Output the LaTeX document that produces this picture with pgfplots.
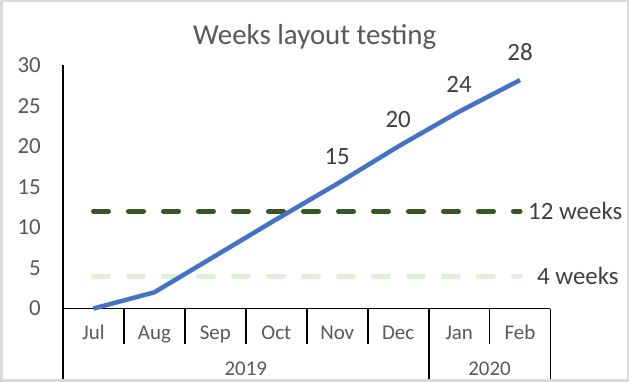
\documentclass[border=0pt]{standalone}
\usepackage{pgfplots}
\pgfplotsset{compat=1.18}
\usepackage{fontspec}
\setmainfont{Carlito}
\definecolor{frame}{HTML}{D9D9D9}
\definecolor{txt}{HTML}{595959}
\definecolor{dtxt}{HTML}{404040}
\definecolor{blueline}{HTML}{4472C4}
\definecolor{darkgreen}{HTML}{375623}
\definecolor{lightgreen}{HTML}{E2EFDA}
\begin{document}
\begin{tikzpicture}
\useasboundingbox (0bp,0bp) rectangle (629bp,382bp);
\fill[white] (0bp,0bp) rectangle (629bp,382bp);
\draw[frame, line width=2.5bp] (1.25bp,1.25bp) rectangle (627.75bp,380.75bp);
\begin{axis}[
  at={(63bp,73.5bp)}, anchor=south west, scale only axis,
  width=487.5bp, height=243bp,
  xmin=-0.5, xmax=7.5, ymin=0, ymax=30,
  axis x line*=bottom, axis y line*=left,
  axis line style={black, line width=1.8bp, -},
  xtick={0,1,2,3,4,5,6,7},
  xticklabels={Jul,Aug,Sep,Oct,Nov,Dec,Jan,Feb},
  ytick={0,5,10,15,20,25,30},
  major tick length=0pt,
  /pgf/number format/assume math mode=true,
  xticklabel style={font=\fontsize{21}{23}\selectfont, color=txt, anchor=base, inner sep=0pt, yshift=-30.8bp},
  yticklabel style={font=\fontsize{23}{25}\selectfont, color=txt, anchor=east, inner sep=0pt, xshift=-22bp},
  clip=false,
]
\addplot[darkgreen, line width=5bp, line cap=round, dash pattern=on 15bp off 20bp, mark=none]
  coordinates {(0,12) (1,12) (2,12) (3,12) (4,12) (5,12) (6,12) (7,12)};
\addplot[lightgreen, line width=5bp, line cap=round, dash pattern=on 15bp off 20bp, mark=none]
  coordinates {(0,4) (1,4) (2,4) (3,4) (4,4) (5,4) (6,4) (7,4)};
\addplot[blueline, line width=4.5bp, line join=round, mark=none]
  coordinates {(0,0) (1,2) (2,6.5) (3,11) (4,15.4) (5,20) (6,24.3) (7,28.2)};
\addplot[draw=none, mark=none, nodes near coords,
  nodes near coords style={font=\fontsize{25}{27}\selectfont, color=dtxt, anchor=base, inner sep=0pt, yshift=19.3bp,
    /pgf/number format/fixed, /pgf/number format/precision=0}]
  coordinates {(4,15.4) (5,20) (6,24.3) (7,28.2)};
\addplot[draw=none, mark=none, nodes near coords, point meta=explicit symbolic,
  nodes near coords style={font=\fontsize{25}{27}\selectfont, color=dtxt, anchor=west, inner sep=0pt, xshift=8bp}]
  coordinates {(7,12) [12 weeks]};
\addplot[draw=none, mark=none, nodes near coords, point meta=explicit symbolic,
  nodes near coords style={font=\fontsize{25}{27}\selectfont, color=dtxt, anchor=west, inner sep=0pt, xshift=17bp}]
  coordinates {(7,4) [4 weeks]};
% category separators
\draw[black, line width=1.8bp] (axis cs:-0.5,0) -- ++(0bp,-70.5bp);
\draw[black, line width=1.8bp] (axis cs:0.5,0) -- ++(0bp,-35.5bp);
\draw[black, line width=1.8bp] (axis cs:1.5,0) -- ++(0bp,-35.5bp);
\draw[black, line width=1.8bp] (axis cs:2.5,0) -- ++(0bp,-35.5bp);
\draw[black, line width=1.8bp] (axis cs:3.5,0) -- ++(0bp,-35.5bp);
\draw[black, line width=1.8bp] (axis cs:4.5,0) -- ++(0bp,-35.5bp);
\draw[black, line width=1.8bp] (axis cs:5.5,0) -- ++(0bp,-70.5bp);
\draw[black, line width=1.8bp] (axis cs:6.5,0) -- ++(0bp,-35.5bp);
\draw[black, line width=1.8bp] (axis cs:7.5,0) -- ++(0bp,-70.5bp);
\node[font=\fontsize{21}{23}\selectfont, color=txt, anchor=base, inner sep=0pt] at (axis cs:2.5,0) [yshift=-66.5bp] {2019};
\node[font=\fontsize{21}{23}\selectfont, color=txt, anchor=base, inner sep=0pt] at (axis cs:6.5,0) [yshift=-66.5bp] {2020};
\end{axis}
\node[font=\fontsize{29}{31}\selectfont, color=txt, anchor=base, inner sep=0pt] at (314.7bp,337bp) {Weeks layout testing};
\end{tikzpicture}
\end{document}
